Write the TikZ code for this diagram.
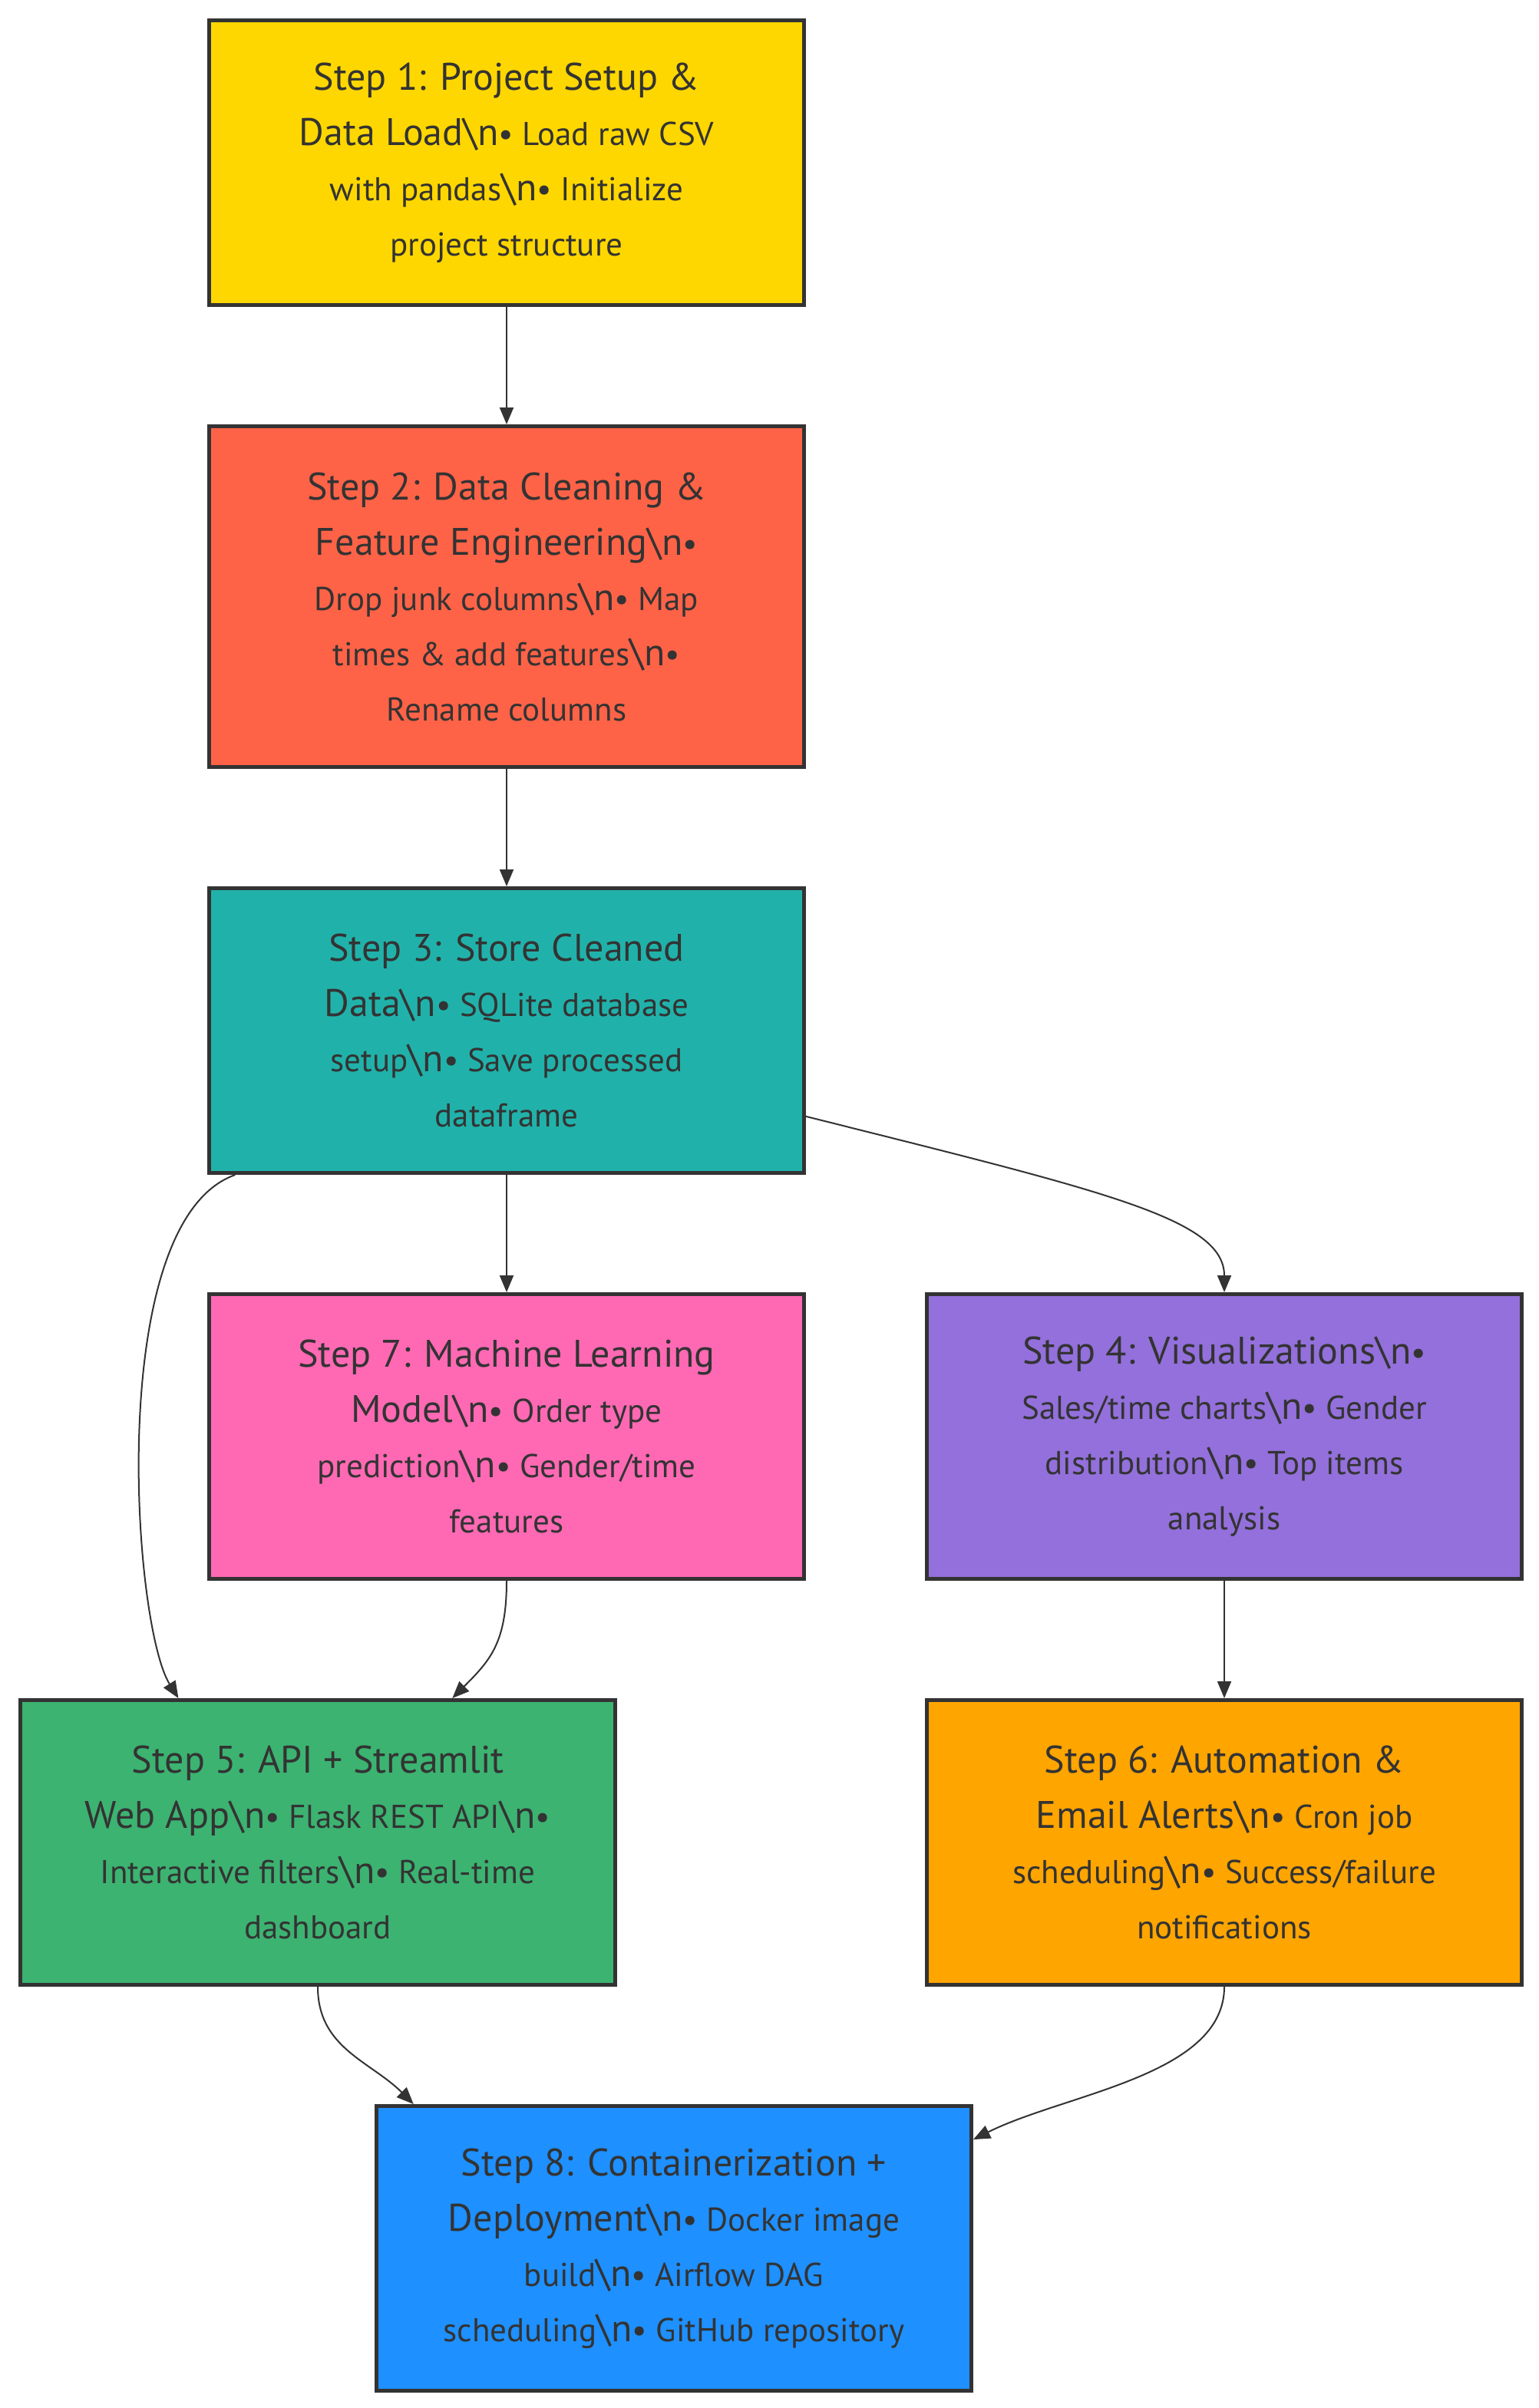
\documentclass[tikz,border=0pt]{standalone}
\usepackage{fontspec}
\setmainfont{PT Sans}
\usepackage{tikz}
\usetikzlibrary{arrows.meta,positioning}
\definecolor{pipegold}{HTML}{FFD700}
\definecolor{pipetomato}{HTML}{FF6347}
\definecolor{pipeteal}{HTML}{20B2AA}
\definecolor{pipepink}{HTML}{FF69B4}
\definecolor{pipepurple}{HTML}{9370DB}
\definecolor{pipegreen}{HTML}{3CB371}
\definecolor{pipeorange}{HTML}{FFA500}
\definecolor{pipeblue}{HTML}{1E90FF}
\definecolor{pipeink}{HTML}{333333}
\newcommand{\steptitle}[1]{{\fontsize{25}{36}\selectfont #1}}
\newcommand{\bsn}{{\fontsize{25}{36}\selectfont\textbackslash n}}

\begin{document}
\begin{tikzpicture}[
  node distance=76.5pt and 77.5pt,
  stepbox/.style={draw=pipeink,line width=2.5pt,minimum width=387.5pt,
              minimum height=185.5pt,align=center,text=pipeink,inner sep=0pt,
              font=\fontsize{21.5}{36}\selectfont},
  arr/.style={-{Triangle[length=11pt,width=9pt]},line width=1pt,pipeink}]

  \useasboundingbox (0,0) rectangle (1002.5pt,-1569pt);

  \node[stepbox,fill=pipegold] (s1) at (330pt,-106pt)
    {\steptitle{Step 1: Project Setup \&}\\
     \steptitle{Data Load}\bsn• Load raw CSV\\
     with pandas\bsn• Initialize\\
     project structure};
  \node[stepbox,fill=pipetomato,minimum height=222pt,below=of s1] (s2)
    {\steptitle{Step 2: Data Cleaning \&}\\
     \steptitle{Feature Engineering}\bsn•\\
     Drop junk columns\bsn• Map\\
     times \& add features\bsn•\\
     Rename columns};
  \node[stepbox,fill=pipeteal,below=of s2] (s3)
    {\steptitle{Step 3: Store Cleaned}\\
     \steptitle{Data}\bsn• SQLite database\\
     setup\bsn• Save processed\\
     dataframe};
  \node[stepbox,fill=pipepink,below=of s3] (s7)
    {\steptitle{Step 7: Machine Learning}\\
     \steptitle{Model}\bsn• Order type\\
     prediction\bsn• Gender/time\\
     features};
  \node[stepbox,fill=pipepurple,right=of s7] (s4)
    {\steptitle{Step 4: Visualizations}\bsn•\\
     Sales/time charts\bsn• Gender\\
     distribution\bsn• Top items\\
     analysis};
  \node[stepbox,fill=pipegreen,below=of s7,xshift=-123pt] (s5)
    {\steptitle{Step 5: API + Streamlit}\\
     \steptitle{Web App}\bsn• Flask REST API\bsn•\\
     Interactive filters\bsn• Real-time\\
     dashboard};
  \node[stepbox,fill=pipeorange,below=of s4] (s6)
    {\steptitle{Step 6: Automation \&}\\
     \steptitle{Email Alerts}\bsn• Cron job\\
     scheduling\bsn• Success/failure\\
     notifications};
  \node[stepbox,fill=pipeblue,below=of s5,xshift=232pt] (s8)
    {\steptitle{Step 8: Containerization +}\\
     \steptitle{Deployment}\bsn• Docker image\\
     build\bsn• Airflow DAG\\
     scheduling\bsn• GitHub repository};

  \draw[arr] (s1) -- (s2);
  \draw[arr] (s2) -- (s3);
  \draw[arr] (s3) -- (s7);
  \draw[arr] (s3.-16) .. controls +(195pt,-49pt) and +(0,48pt) .. (s4.north);
  \draw[arr] (s3.208) .. controls +(-85pt,-30pt) and +(-30pt,48pt) .. (s5.134);
  \draw[arr] (s7.south) .. controls +(0,-40pt) and +(25pt,25pt) .. (s5.47);
  \draw[arr] (s4) -- (s6);
  \draw[arr] (s5.south) .. controls +(0,-40pt) and +(-28pt,28pt) .. (s8.151);
  \draw[arr] (s6.south) .. controls +(0,-58pt) and +(60pt,30pt) .. (s8.20);
\end{tikzpicture}
\end{document}
